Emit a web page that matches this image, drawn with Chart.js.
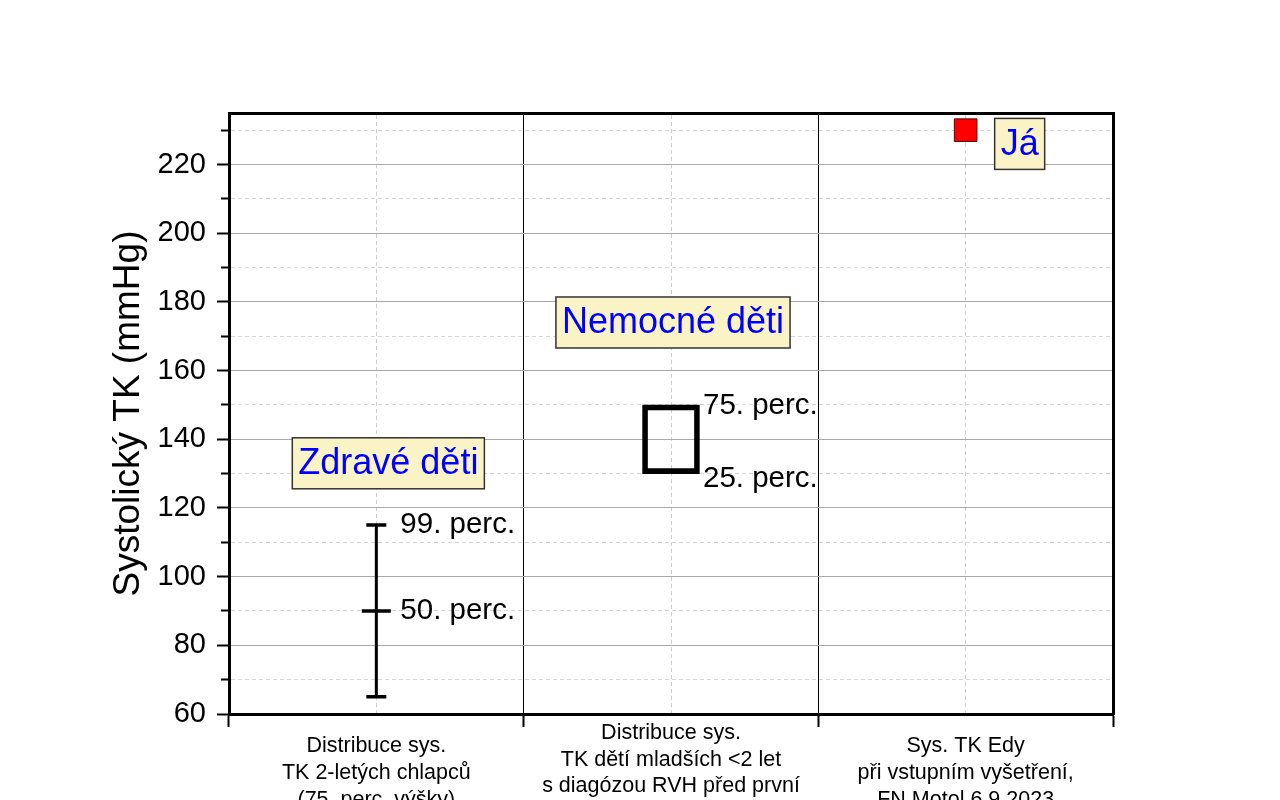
<!DOCTYPE html>
<html>
<head>
<meta charset="utf-8">
<script src="https://cdn.jsdelivr.net/npm/chart.js@4.4.1/dist/chart.umd.min.js"></script>
<style>
  html, body { margin: 0; padding: 0; background: #fff; overflow: hidden; }
  canvas { display: block; }
</style>
</head>
<body>
<canvas id="chart" width="1280" height="800"></canvas>
<script>
// categories on the x axis (multi-line labels)
var categories = [
  ['Distribuce sys.', 'TK 2-letých chlapců', '(75. perc. výšky)'],
  ['Distribuce sys.', 'TK dětí mladších <2 let', 's diagózou RVH před první', 'operací'],
  ['Sys. TK Edy', 'při vstupním vyšetření,', 'FN Motol 6.9.2023']
];

// healthy kids: bottom whisker, 50. and 99. percentile (mmHg)
var healthyPerc = [65, 90, 115];
var healthyPercNames = ['', '50. perc.', '99. perc.'];

// sick kids: 25. - 75. percentile box
var sickBox = [130, 150];
var sickPercNames = ['25. perc.', '75. perc.'];

// my value
var myValue = 230;

// group notes
var groupNames = ['Zdravé děti', 'Nemocné děti', 'Já'];
var groupNoteY = [133, 174, 226];

var FONT = "'Liberation Sans', Arial, sans-serif";
Chart.defaults.font.family = FONT;
Chart.defaults.color = '#000';

function isMajor(ctx) {
  return ctx.tick && ctx.tick.value % 20 === 0;
}

// shift of the note boxes from the category centre, px
var groupShift = [12, 2, 54];

var notes = {
  id: 'notes',
  afterDatasetsDraw: function(chart) {
    var ctx = chart.ctx;
    var x = chart.scales.x, y = chart.scales.y;
    ctx.save();
    ctx.font = '29.5px ' + FONT;
    ctx.fillStyle = '#000';
    ctx.textAlign = 'left';
    ctx.textBaseline = 'middle';
    healthyPerc.forEach(function(v, i) {
      if (healthyPercNames[i]) {
        ctx.fillText(healthyPercNames[i], x.getPixelForValue(0) + 24, y.getPixelForValue(v));
      }
    });
    sickBox.forEach(function(v, i) {
      ctx.fillText(sickPercNames[i], x.getPixelForValue(1) + 32, y.getPixelForValue(v) + (i === 0 ? 5 : 1));
    });

    ctx.font = '36px ' + FONT;
    ctx.textAlign = 'center';
    groupNames.forEach(function(name, i) {
      var cx = x.getPixelForValue(i) + groupShift[i];
      var cy = y.getPixelForValue(groupNoteY[i]);
      var w = ctx.measureText(name).width + 12, h = 51;
      ctx.fillStyle = '#f9f3c6';
      ctx.fillRect(cx - w / 2, cy - h / 2, w, h);
      ctx.strokeStyle = '#333';
      ctx.lineWidth = 1.5;
      ctx.strokeRect(cx - w / 2, cy - h / 2, w, h);
      ctx.fillStyle = '#0000ff';
      ctx.fillText(name, cx, cy + 1);
    });
    ctx.restore();
  }
};

var chart = new Chart(document.getElementById('chart'), {
  type: 'bar',
  data: {
    labels: categories,
    datasets: [
      {
        type: 'line',
        data: healthyPerc.map(function(v) { return {x: categories[0], y: v}; }),
        borderColor: '#000',
        borderWidth: 3,
        pointStyle: 'line',
        pointRadius: function(ctx) { return ctx.dataIndex === 1 ? 14.5 : 10; },
        pointBorderWidth: 3.5,
        pointBorderColor: '#000',
        fill: false
      },
      {
        type: 'bar',
        data: [null, sickBox, null],
        backgroundColor: 'rgba(0,0,0,0)',
        borderColor: '#000',
        borderWidth: 5,
        borderSkipped: false,
        barThickness: 57
      },
      {
        type: 'line',
        data: [null, null, myValue],
        showLine: false,
        pointStyle: 'rect',
        pointRadius: 16,
        pointBackgroundColor: '#ff0000',
        pointBorderColor: '#5a0000',
        pointBorderWidth: 1
      }
    ]
  },
  options: {
    responsive: false,
    devicePixelRatio: 1,
    animation: false,
    events: [],
    layout: { padding: { left: 0, top: 113, right: 167, bottom: 0 } },
    plugins: {
      legend: { display: false },
      tooltip: { enabled: false }
    },
    scales: {
      x: {
        type: 'category',
        position: 'bottom',
        offset: true,
        afterFit: function(s) { s.height = 86; },
        grid: {
          offset: true,
          color: '#000',
          lineWidth: 1,
          tickLength: 13,
          tickColor: '#000',
          tickWidth: 2
        },
        border: { color: '#000', width: 3 },
        ticks: {
          font: { size: 21.5, lineHeight: 1.24 },
          color: '#000',
          padding: 6,
          maxRotation: 0,
          autoSkip: false,
          crossAlign: 'center'
        }
      },
      x2: {
        type: 'category',
        labels: categories,
        position: 'top',
        offset: true,
        afterFit: function(s) { s.height = 0; },
        grid: { offset: false, color: '#cfcfcf', lineWidth: 1, drawTicks: false },
        border: { color: '#000', width: 3, dash: [4, 3] },
        ticks: { display: false }
      },
      y: {
        type: 'linear',
        position: 'left',
        min: 60,
        max: 235,
        afterFit: function(s) { s.width = 229; },
        ticks: {
          stepSize: 10,
          maxTicksLimit: 40,
          autoSkip: false,
          includeBounds: false,
          font: { size: 29 },
          color: '#000',
          padding: 11,
          callback: function(v) { return v % 20 === 0 ? v : ''; }
        },
        grid: {
          color: function(ctx) { return isMajor(ctx) ? '#a8a8a8' : '#d6d6d6'; },
          lineWidth: 1,
          tickLength: 12,
          tickColor: '#000',
          tickWidth: 2,
          tickBorderDash: function(ctx) { return isMajor(ctx) ? [] : [0, 4, 7, 100]; }
        },
        border: {
          color: '#000',
          width: 3,
          dash: function(ctx) { return ctx.tick && !isMajor(ctx) ? [4, 3] : []; }
        },
        title: {
          display: true,
          text: 'Systolický TK (mmHg)',
          font: { size: 37 },
          color: '#000',
          padding: { top: 107, bottom: 0 }
        }
      },
      y2: {
        type: 'linear',
        position: 'right',
        min: 60,
        max: 235,
        afterFit: function(s) { s.width = 0; },
        grid: { drawOnChartArea: false, drawTicks: false },
        ticks: { display: false },
        border: { color: '#000', width: 3 }
      }
    }
  },
  plugins: [notes]
});
</script>
</body>
</html>
